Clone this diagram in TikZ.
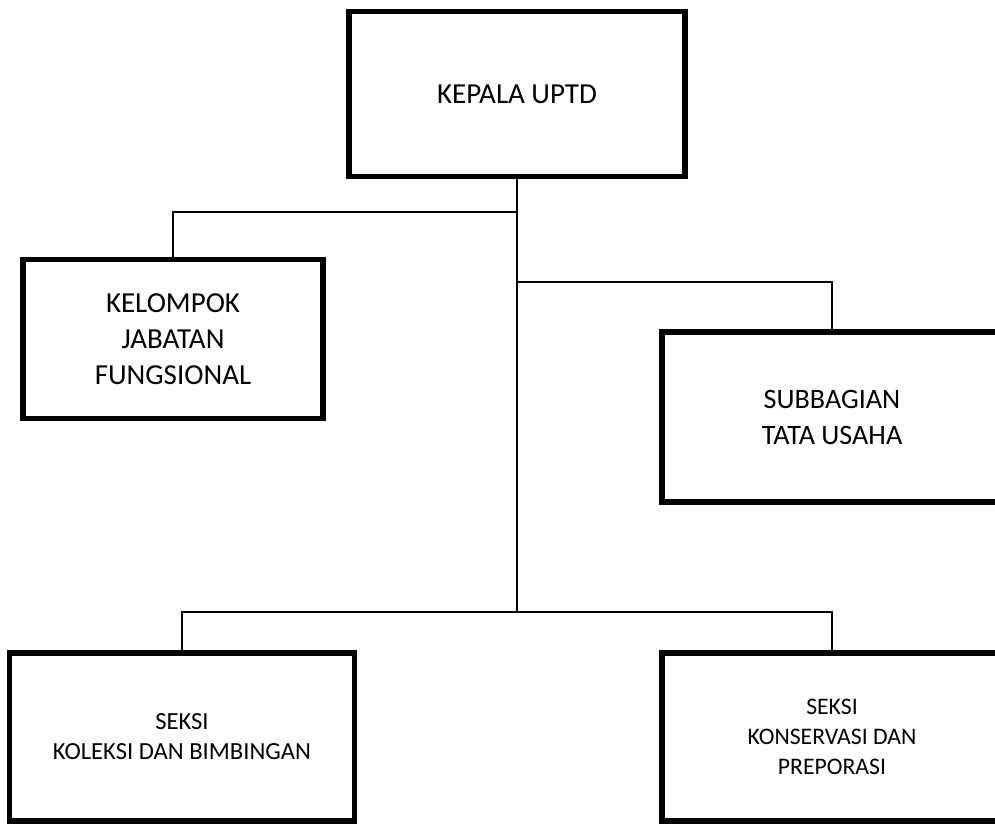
\documentclass[tikz,border=0pt]{standalone}
\usepackage{fontspec}
\setmainfont{Carlito}
\tikzstyle{kotak}=[draw, line width=3.2pt, rectangle, align=center, inner sep=0pt]
\tikzstyle{garis}=[line width=1.1pt]

\begin{document}
\begin{tikzpicture}[x=0.02cm, y=-0.02cm]
        \useasboundingbox (0,0) rectangle (995,825);
        \clip (0,0) rectangle (995,825);

        % Kotak-kotak struktur organisasi
        \node[kotak, minimum width=6.72cm, minimum height=3.3cm, font=\fontsize{16.5}{19}\selectfont] (kepala) at (517,94) {KEPALA UPTD};
        \node[kotak, minimum width=6.0cm, minimum height=3.18cm, font=\fontsize{16.5}{20.5}\selectfont] (kelompok) at (173,339) {KELOMPOK\\JABATAN\\FUNGSIONAL};
        \node[kotak, minimum width=6.8cm, minimum height=3.4cm, font=\fontsize{16}{20.5}\selectfont] (subbag) at (832,417) {SUBBAGIAN\\TATA USAHA};
        \node[kotak, minimum width=6.9cm, minimum height=3.36cm, font=\fontsize{14}{17}\selectfont] (koleksi) at (182,737) {SEKSI\\KOLEKSI DAN BIMBINGAN};
        \node[kotak, minimum width=6.8cm, minimum height=3.36cm, font=\fontsize{13.5}{17}\selectfont] (konservasi) at (832,737) {SEKSI\\KONSERVASI DAN\\PREPORASI};

        % Titik cabang pada garis utama
        \coordinate (c1) at (517,212);
        \coordinate (c2) at (517,282);
        \coordinate (c3) at (517,612);

        % Garis penghubung
        \draw[garis] (kepala.south) -- (c3);
        \draw[garis] (c1) -| (kelompok.north);
        \draw[garis] (c2) -| (subbag.north);
        \draw[garis] (koleksi.north) |- (c3) -| (konservasi.north);
    \end{tikzpicture}
\end{document}
